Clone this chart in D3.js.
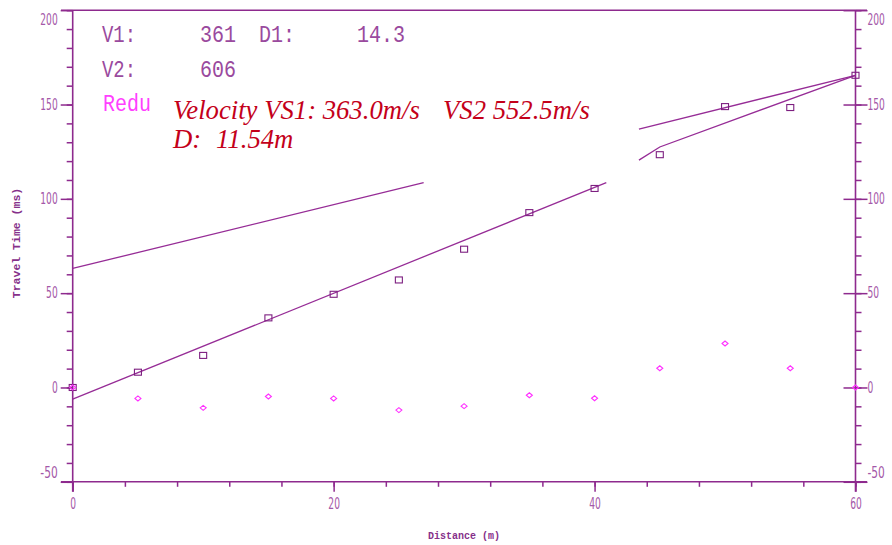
<!DOCTYPE html>
<html>
<head>
<meta charset="utf-8">
<script src="https://cdn.jsdelivr.net/npm/d3@7"></script>
<style>
  body { margin: 0; background: #fff; }
  .tick text { font-family: "Liberation Sans Narrow", "DejaVu Sans Condensed", "Roboto Condensed", sans-serif; font-size: 15px; fill: #a458a8; }
</style>
</head>
<body>
<script>
// geophone distances (m)
const distances = [0, 5, 10, 15, 20, 25, 30, 35, 40, 45, 50, 55, 60];
// picked first-arrival travel times (ms)
const travelTimes = [0, 8.1, 17.0, 36.9, 49.4, 57.0, 73.3, 92.7, 105.5, 123.4, 148.9, 148.4, 165.5];
// reduced travel times (ms)
const reducedTimes = [0, -5.8, -10.8, -4.8, -5.8, -12.0, -9.9, -4.1, -5.7, 10.2, 23.3, 10.2, 0];

// fitted segments [distance, time]
const directFit = [[0, -6.2], [40.9, 108.6]];
const refractFit = [[0, 63.1], [26.9, 108.6]];
const upperRightFit = [[43.4, 137.0], [60, 165.5]];
const lowerRightFit = [[43.4, 120.5], [45, 127.5], [60, 165.5]];

const xMajor = [0, 20, 40, 60];
const xMinor = d3.range(0, 61, 4);
const yMajor = [-50, 0, 50, 100, 150, 200];
const yMinor = d3.range(-50, 201, 10);

const width = 892, height = 545;
const axisColor = '#8e2a8e';
const lineColor = '#962c96';

let svg = d3.select('body').append('svg')
  .attr('width', width)
  .attr('height', height);

let x = d3.scaleLinear().domain([0, 60]).range([72.7, 855.5]);
let y = d3.scaleLinear().domain([-50, 200]).range([481.8, 10.2]);

let plainFormat = d => String(d);   //keeps the ascii hyphen for negatives

//Minor and major ticks, left side
svg.append('g')
  .attr('transform', 'translate(' + x(0) + ',0)')
  .call(d3.axisLeft(y).tickValues(yMinor).tickSize(6).tickSizeOuter(0).tickFormat(''));
let leftMajor = svg.append('g')
  .attr('transform', 'translate(' + x(0) + ',0)')
  .call(d3.axisLeft(y).tickValues(yMajor).tickSize(12).tickSizeOuter(0).tickPadding(3).tickFormat(plainFormat));

//Right side: major ticks cross the axis
svg.append('g')
  .attr('transform', 'translate(' + x(60) + ',0)')
  .call(d3.axisRight(y).tickValues(yMinor).tickSize(6).tickSizeOuter(0).tickFormat(''));
let rightMajor = svg.append('g')
  .attr('transform', 'translate(' + x(60) + ',0)')
  .call(d3.axisRight(y).tickValues(yMajor).tickSize(12).tickSizeOuter(0).tickPadding(0).tickFormat(plainFormat));
rightMajor.selectAll('.tick line').attr('x1', -12);

//Bottom
svg.append('g')
  .attr('transform', 'translate(0,' + y(-50) + ')')
  .call(d3.axisBottom(x).tickValues(xMinor).tickSize(5).tickSizeOuter(0).tickFormat(''));
let bottomMajor = svg.append('g')
  .attr('transform', 'translate(0,' + y(-50) + ')')
  .call(d3.axisBottom(x).tickValues(xMajor).tickSize(10).tickSizeOuter(0).tickFormat(plainFormat));
bottomMajor.selectAll('.tick text').attr('y', 22).attr('dy', '0.32em');

//Keep the end labels inside the frame like the original
[leftMajor, rightMajor].forEach(function(g) {
  g.selectAll('.tick text')
    .attr('y', function(d) { return d === 200 ? 10 : (d === -50 ? -9 : 0); });
});

//Narrow digits
svg.selectAll('.tick text')
  .attr('textLength', function() { return this.textContent.length * 5.8; })
  .attr('lengthAdjust', 'spacingAndGlyphs');

svg.selectAll('.domain').remove();
svg.selectAll('.tick line').attr('stroke', axisColor).attr('stroke-width', 1.5);

//Frame lines
let frame = [
  [61, y(200), 867, y(200)],
  [61, y(-50), 867, y(-50)],
  [x(0), y(200), x(0), y(-50) + 10],
  [x(60), y(200), x(60), y(-50) + 10]
];
svg.append('g').selectAll('line')
  .data(frame)
  .enter().append('line')
  .attr('x1', d => d[0]).attr('y1', d => d[1])
  .attr('x2', d => d[2]).attr('y2', d => d[3])
  .attr('stroke', axisColor)
  .attr('stroke-width', 1.6);

//Fitted lines
let line = d3.line().x(d => x(d[0])).y(d => y(d[1]));
svg.append('g').selectAll('path')
  .data([directFit, refractFit, upperRightFit, lowerRightFit])
  .enter().append('path')
  .attr('d', line)
  .attr('fill', 'none')
  .attr('stroke', lineColor)
  .attr('stroke-width', 1.3);

//Travel time squares
svg.append('g').selectAll('rect')
  .data(distances)
  .enter().append('rect')
  .attr('x', d => x(d) - 3.5)
  .attr('y', (d, i) => y(travelTimes[i]) - 3)
  .attr('width', 7)
  .attr('height', 6)
  .attr('fill', 'none')
  .attr('stroke', '#7d1f80')
  .attr('stroke-width', 1.1);

//Reduced time diamonds
svg.append('g').selectAll('path')
  .data(distances)
  .enter().append('path')
  .attr('transform', (d, i) => 'translate(' + x(d) + ',' + y(reducedTimes[i]) + ')')
  .attr('d', 'M-3,0L0,-2.5L3,0L0,2.5Z')
  .attr('fill', 'none')
  .attr('stroke', '#ff30ff')
  .attr('stroke-width', 1.1);

//Axis titles
svg.append('text')
  .attr('x', 464)
  .attr('y', 539)
  .attr('text-anchor', 'middle')
  .style('font-family', '"Liberation Mono", "DejaVu Sans Mono", monospace')
  .style('font-size', '10px')
  .style('font-weight', 'bold')
  .style('fill', '#86308a')
  .text('Distance (m)');

svg.append('text')
  .attr('transform', 'translate(20,243) rotate(-90)')
  .attr('text-anchor', 'middle')
  .style('font-family', '"Liberation Mono", "DejaVu Sans Mono", monospace')
  .style('font-size', '11.5px')
  .style('font-weight', 'bold')
  .style('fill', '#86308a')
  .text('Travel Time (ms)');

//Parameter block
let params = [
  { t: 'V1:', x: 102, y: 42, w: 34, c: '#9a4a9e' },
  { t: '361', x: 200, y: 42, w: 36, c: '#9a4a9e' },
  { t: 'D1:', x: 259, y: 42, w: 36, c: '#9a4a9e' },
  { t: '14.3', x: 357, y: 42, w: 48, c: '#9a4a9e' },
  { t: 'V2:', x: 102, y: 77, w: 34, c: '#9a4a9e' },
  { t: '606', x: 200, y: 77, w: 36, c: '#9a4a9e' },
  { t: 'Redu', x: 103, y: 111, w: 48, c: '#ff40ff' }
];
svg.append('g').selectAll('text')
  .data(params)
  .enter().append('text')
  .attr('x', d => d.x)
  .attr('y', d => d.y)
  .attr('textLength', d => d.w)
  .attr('lengthAdjust', 'spacingAndGlyphs')
  .style('font-family', '"Liberation Mono", "DejaVu Sans Mono", monospace')
  .style('font-size', '24px')
  .style('fill', d => d.c)
  .text(d => d.t);

let notes = [
  { t: 'Velocity VS1: 363.0m/s', x: 173, y: 119 },
  { t: 'VS2 552.5m/s', x: 443, y: 119 },
  { t: 'D:', x: 173, y: 148 },
  { t: '11.54m', x: 216, y: 148 }
];
svg.append('g').selectAll('text')
  .data(notes)
  .enter().append('text')
  .attr('x', d => d.x)
  .attr('y', d => d.y)
  .style('font-family', '"Liberation Serif", "Times New Roman", serif')
  .style('font-style', 'italic')
  .style('font-size', '26.7px')
  .style('fill', '#c4001a')
  .text(d => d.t);
</script>
</body>
</html>
